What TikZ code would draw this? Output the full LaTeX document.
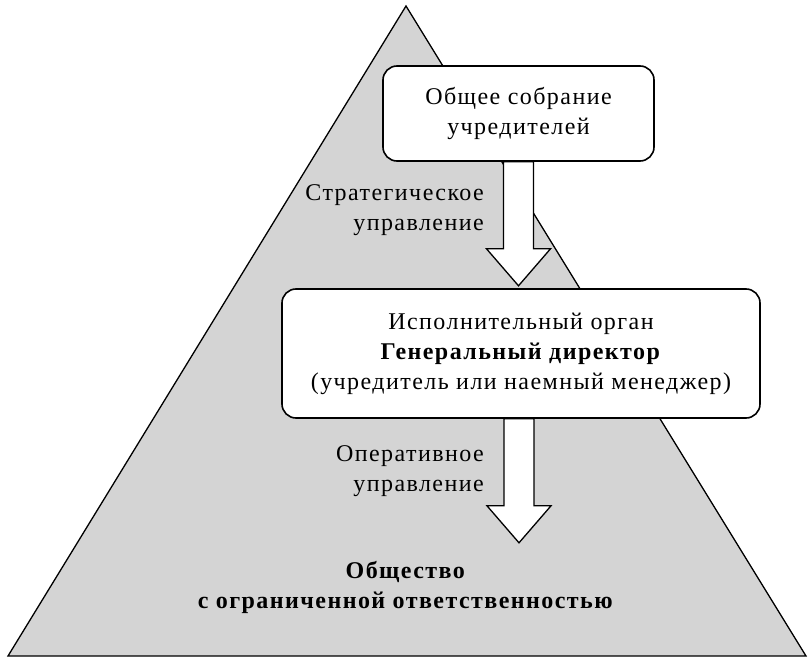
\documentclass[tikz,border=0pt]{standalone}
\usepackage{fontspec}
\setmainfont{Liberation Serif}[LetterSpace=6]
\usetikzlibrary{positioning}

\tikzset{
  orgbox/.style={draw, line width=1.6pt, rounded corners=14pt, fill=white, align=center, inner sep=0pt},
  fatarrow/.style={draw, line width=1.3pt, fill=white, line join=miter},
  lbl/.style={align=right, anchor=east, inner sep=0pt},
}

\begin{document}
\begin{tikzpicture}[x=1pt, y=-1pt, font=\fontsize{24}{30}\selectfont]
    \useasboundingbox (0,0) rectangle (812,666);
    \fill[white] (0,0) rectangle (812,666);
    % pyramid
    \draw[fill=black!17, line width=1.3pt, line join=miter] (406,6) -- (8,656) -- (806,656) -- cycle;
    % boxes
    \node[orgbox, minimum width=271pt, minimum height=95pt] (founders) at (518.5,113.5)
        {Общее собрание\\учредителей};
    \node[orgbox, minimum width=478pt, minimum height=129pt] (director) at (521,353.5)
        {Исполнительный орган\\\textbf{Генеральный директор}\\(учредитель или наемный менеджер)};
    % arrows
    \draw[fatarrow] (founders.south) ++(-15,0) -- ++(0,87) -- ++(-17,0) -- ++(32,37)
        -- ++(32,-37) -- ++(-17,0) -- ++(0,-87) -- cycle;
    \draw[fatarrow] (director.south) ++(-17,0) -- ++(0,87) -- ++(-17,0) -- ++(32,37)
        -- ++(32,-37) -- ++(-17,0) -- ++(0,-87) -- cycle;
    % labels
    \node[lbl] (strategic) at (484,210) {Стратегическое\\управление};
    \node[lbl] (operative) at (484,471) {Оперативное\\управление};
    \node[align=center, inner sep=0pt] (company) at (406,587)
        {\textbf{Общество}\\\textbf{с ограниченной ответственностью}};
\end{tikzpicture}
\end{document}
